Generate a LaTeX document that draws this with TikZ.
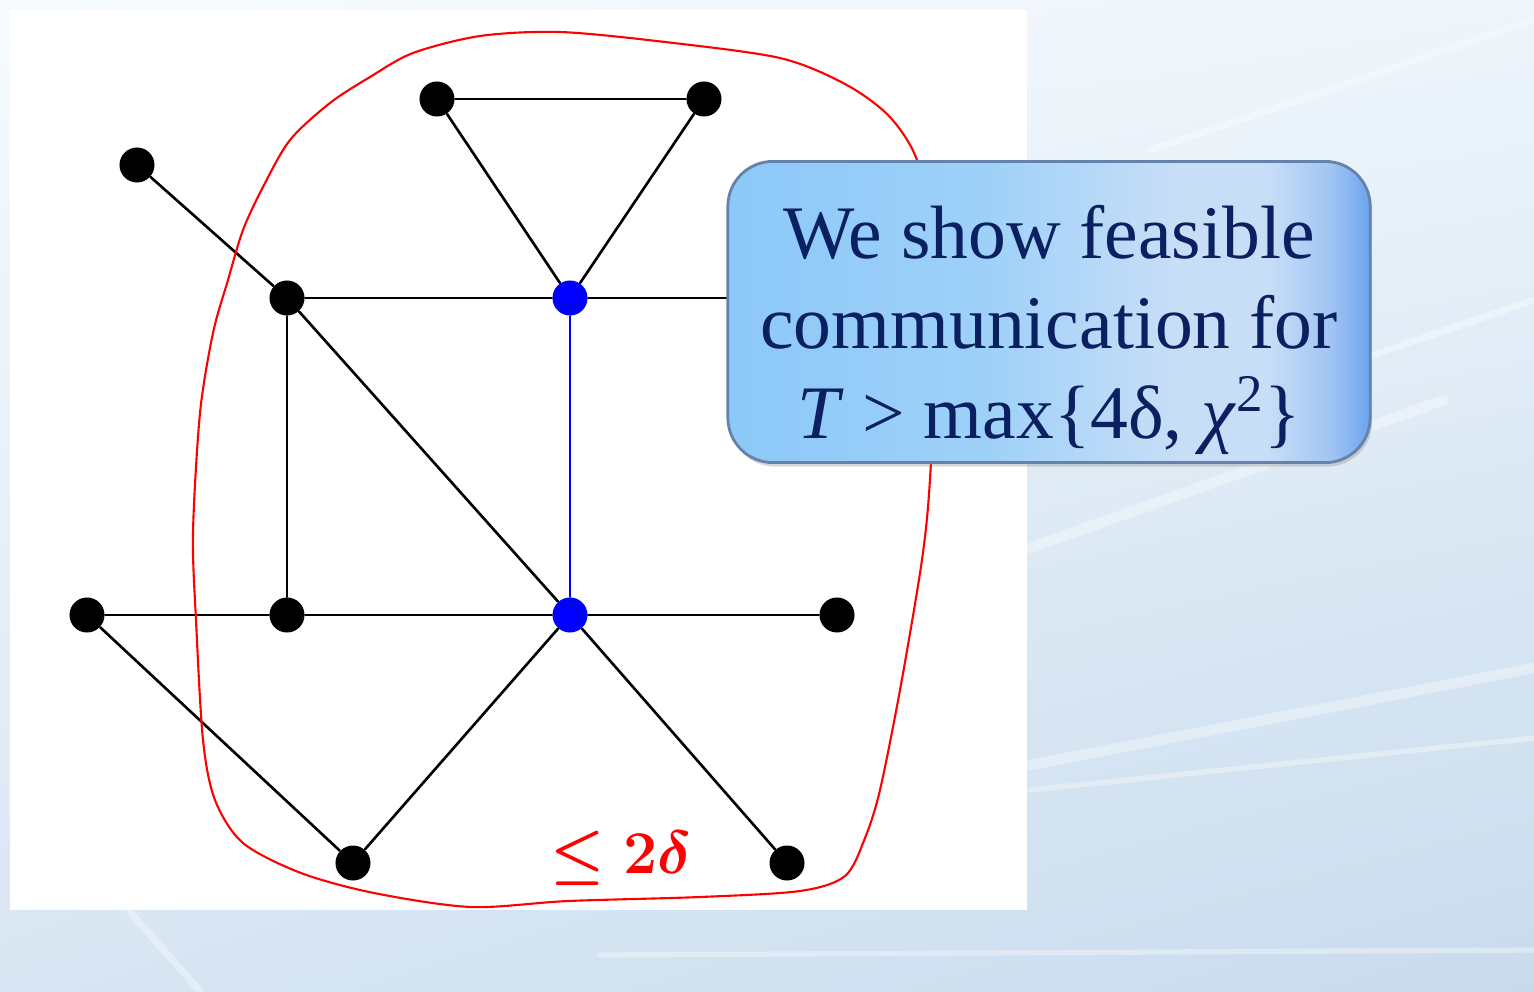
\documentclass[tikz,border=0pt]{standalone}
\usepackage{fontspec}
\usepackage{amsmath}
\usetikzlibrary{shadows,shadings}

\newfontfamily\calloutfont{Liberation Serif}

\definecolor{bgTL}{RGB}{247,251,253}
\definecolor{bgTR}{RGB}{238,245,251}
\definecolor{bgBL}{RGB}{216,230,243}
\definecolor{bgBR}{RGB}{200,219,237}
\definecolor{boxL}{RGB}{140,200,248}
\definecolor{boxA}{RGB}{158,209,248}
\definecolor{boxM}{RGB}{200,222,247}
\definecolor{boxB}{RGB}{160,196,243}
\definecolor{boxR}{RGB}{108,163,236}
\definecolor{boxEdge}{RGB}{100,130,170}
\definecolor{navy}{RGB}{10,32,96}

\pgfdeclarehorizontalshading{calloutshade}{100bp}{color(0bp)=(boxL); color(25bp)=(boxL); color(45bp)=(boxA); color(60bp)=(boxM); color(67bp)=(boxM); color(72bp)=(boxB); color(75bp)=(boxR); color(100bp)=(boxR)}

\tikzset{
  vtx/.style={circle, fill=black, minimum size=0.35cm, inner sep=0pt},
  hub/.style={vtx, fill=blue},
  edge/.style={line width=0.75pt, black},
  hubedge/.style={line width=0.6pt, blue},
  streak/.style={white, line width=3pt, opacity=0.35},
  blob/.style={red, line width=0.6pt},
  boundlabel/.style={text=red, font=\boldmath\fontsize{18}{20}\selectfont},
  callout/.style={shading=calloutshade, draw=boxEdge, line width=0.8pt,
    rounded corners=0.45cm, minimum width=6.42cm, minimum height=3.01cm,
    drop shadow={opacity=0.3, shadow xshift=0.02cm, shadow yshift=-0.04cm}}
}

\begin{document}
\begin{tikzpicture}[x=0.01cm, y=-0.01cm, line cap=round, line join=round]

% === FONDO ===
\useasboundingbox (0,0) rectangle (1534,991);
\shade[upper left=bgTL, upper right=bgTR, lower left=bgBL, lower right=bgBR] (0,0) rectangle (1534,991);
% rayas claras
\draw[streak] (1030,548) -- (1444,400);
\draw[streak, line width=2pt] (1300,380) -- (1534,300);
\draw[streak] (1030,765) -- (1534,668);
\draw[streak, line width=1.5pt] (1030,790) -- (1534,738);
\draw[streak, line width=2pt] (1150,150) -- (1534,20);
\draw[streak, line width=1.5pt] (600,955) -- (1534,950);
\draw[streak, line width=2pt] (130,912) -- (200,991);

% === HOJA BLANCA ===
\fill[white] (10,10) rectangle (1027,910);

% === GRAFO ===
\foreach \n/\x/\y in {a/137/165, b/437/99, c/704/99, d/287/298,
                      f/87/615, g/287/615, i/837/615, j/353/863, k/787/863}{
    \node[vtx] (\n) at (\x,\y) {};
}
\node[hub] (e) at (570,298) {};
\node[hub] (h) at (570,615) {};
\coordinate (eR) at (900,298);

\foreach \u/\v in {b/c, b/e, c/e, d/e, a/d, d/h, d/g, f/g, g/h, h/i, f/j, j/h, h/k}{
    \draw[edge] (\u) -- (\v);
}
\draw[edge] (e) -- (eR);
\draw[hubedge] (e) -- (h);

% cota
\node[boundlabel] (bound) at (621,858) {$\leq 2\delta$};

% === CONTORNO ROJO ===
\draw[blob] plot[smooth cycle] coordinates {(480,36) (560,32) (665,42) (780,58) (845,84) (888,115) (915,155) (930,215) (935,320) (933,420) (928,507) (920,573) (900,690) (880,790) (865,838) (845,876) (800,891) (700,897) (568,901) (471,907) (374,893) (301,873) (243,843) (215,800) (203,740) (196,620) (193,533) (200,413) (213,333) (228,280) (243,230) (263,187) (290,140) (330,103) (370,77) (413,53)};

% === CUADRO DE TEXTO ===
\node[callout] (callbox) at (1049,312) {};
\node[text=navy, align=center, inner sep=0pt, font=\calloutfont\fontsize{21.5}{25.5}\selectfont]
    (calltext) at (1049,330)
    {We show feasible\\communication for\\\textit{T} > max\{4δ, \textit{χ}\textsuperscript{2}\}};

\end{tikzpicture}
\end{document}
